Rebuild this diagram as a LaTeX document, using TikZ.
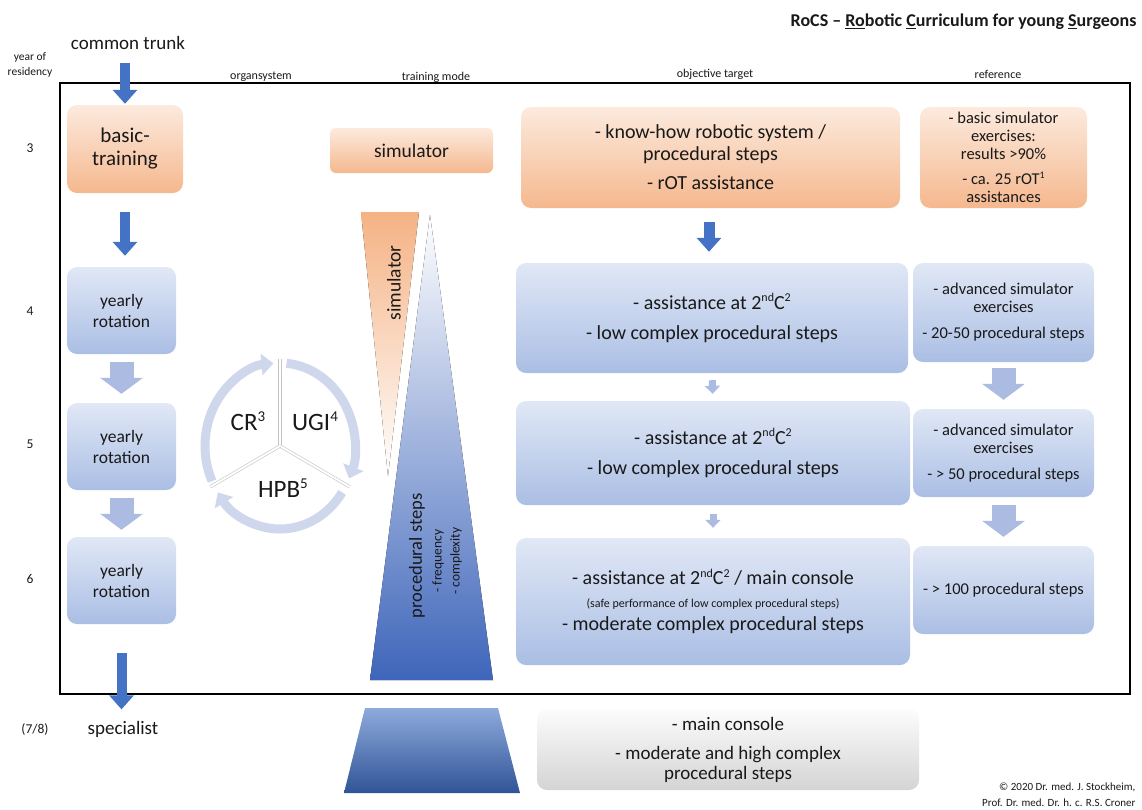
\documentclass[tikz,border=0pt]{standalone}
\usepackage{fontspec}
\usepackage{graphicx}
\setmainfont{Carlito}
\usetikzlibrary{arrows.meta}
\definecolor{orTop}{RGB}{252,234,222}
\definecolor{orBot}{RGB}{245,184,142}
\definecolor{blTop}{RGB}{225,232,246}
\definecolor{blBot}{RGB}{170,190,228}
\definecolor{grTop}{RGB}{252,252,252}
\definecolor{grBot}{RGB}{212,212,212}
\definecolor{darkA}{RGB}{68,114,196}
\definecolor{lightA}{RGB}{172,187,226}
\definecolor{ringC}{RGB}{207,215,237}
\definecolor{lineC}{RGB}{196,196,196}
\definecolor{orTri}{RGB}{245,178,132}
\definecolor{triBot}{RGB}{62,101,186}
\definecolor{tzTop}{RGB}{142,170,220}
\definecolor{tzMid}{RGB}{70,114,196}
\definecolor{tzBot}{RGB}{48,84,150}
\definecolor{txt}{RGB}{25,25,25}
\newcommand\myfs[2]{\fontsize{#1}{#2}\selectfont}
\newcommand\mysup[1]{\raisebox{0.36em}{\scalebox{0.6}{#1}}}
\begin{document}
\begin{tikzpicture}[x=1pt,y=-1pt,
  every node/.style={text=txt},
  obox/.style={rounded corners=10pt, top color=orTop, bottom color=orBot, draw=none, inner sep=0pt, align=center},
  bbox/.style={rounded corners=10pt, top color=blTop, bottom color=blBot, draw=none, inner sep=0pt, align=center},
  gbox/.style={rounded corners=10pt, top color=grTop, bottom color=grBot, draw=none, inner sep=0pt, align=center},
  hdr/.style={font=\myfs{12}{14}},
  yr/.style={font=\myfs{13.5}{15}},
  objf/.style={font=\myfs{20}{22}},
  reff/.style={font=\myfs{16.5}{18}},
  darrow/.style={draw=darkA, line width=10pt, -{Triangle[length=14pt,width=24pt]}},
  larrow/.style={draw=lightA, line width=24pt, -{Triangle[length=16pt,width=42pt]}},
  sarrow/.style={draw=lightA, line width=7pt, -{Triangle[length=8pt,width=15pt]}},
  ringarrow/.style={draw=ringC, line width=9pt, -{Triangle[length=12pt,width=21pt]}},
  divider/.style={draw=lineC, double=white, double distance=2pt, line width=0.6pt}
]
\useasboundingbox (0,0) rectangle (1142,809);

% title and credits
\node[anchor=east, font=\bfseries\myfs{18}{20}] (title) at (1140,22) {RoCS -- \underline{Ro}botic \underline{C}urriculum for young \underline{S}urgeons};
\node[anchor=east, align=right, font=\myfs{11}{16}] (credit) at (1139,795) {© 2020 Dr. med. J. Stockheim,\\Prof. Dr. med. Dr. h. c. R.S. Croner};

% frame
\draw[line width=2pt] (60,83) rectangle (1130,694);

% headers
\node[align=center, font=\myfs{11.5}{15}] (yor) at (30,65) {year of\\residency};
\node[hdr] (h1) at (261,77) {organsystem};
\node[hdr] (h2) at (436,77) {training mode};
\node[hdr] (h3) at (715,74) {objective target};
\node[hdr] (h4) at (998,74) {reference};

% years
\node[yr] (y3) at (30,148) {3};
\node[yr] (y4) at (30,311) {4};
\node[yr] (y5) at (30,444) {5};
\node[yr] (y6) at (30,579) {6};
\node[yr] (y78) at (35,729) {(7/8)};

% left column
\node[font=\myfs{19}{21}] (trunk) at (128,43) {common trunk};
\node[obox, minimum width=116pt, minimum height=88pt, font=\myfs{21}{23}] (basic) at (125,149) {basic-\\training};
\node[bbox, minimum width=109pt, minimum height=87pt, font=\myfs{17.5}{21}] (rot1) at (121.5,310.5) {yearly\\rotation};
\node[bbox, minimum width=109pt, minimum height=87pt, font=\myfs{17.5}{21}] (rot2) at (121.5,446.5) {yearly\\rotation};
\node[bbox, minimum width=109pt, minimum height=87pt, font=\myfs{17.5}{21}] (rot3) at (121.5,580.5) {yearly\\rotation};
\node[font=\myfs{19}{21}] (spec) at (123,729) {specialist};

\draw[darrow, shorten <=10pt, shorten >=1pt] (trunk.south -| basic.north) -- (basic.north);
\draw[darrow, shorten <=19pt, shorten >=11pt] (basic.south) -- (basic.south |- rot1.north);
\draw[larrow, shorten <=8pt, shorten >=9pt] (rot1.south) -- (rot2.north);
\draw[larrow, shorten <=8pt, shorten >=7pt] (rot2.south) -- (rot3.north);
\draw[darrow, shorten <=29pt, shorten >=8pt] (rot3.south) -- (rot3.south |- spec.north);

% organ system cycle
\begin{scope}[shift={(280,446)}, yscale=-1]
  \draw[ringarrow] (205:75 and 83) arc[start angle=205, end angle=95, x radius=75, y radius=83];
  \draw[ringarrow] (85:75 and 83) arc[start angle=85, end angle=-23, x radius=75, y radius=83];
  \draw[ringarrow] (-34:75 and 83) arc[start angle=-34, end angle=-146, x radius=75, y radius=83];
  \coordinate (cc) at (0,0);
  \coordinate (d1) at (90:79 and 87);
  \coordinate (d2) at (-28:79 and 87);
  \coordinate (d3) at (208:79 and 87);
  \draw[divider] (cc) -- (d1);
  \draw[divider] (cc) -- (d2);
  \draw[divider] (cc) -- (d3);
\end{scope}
\node[font=\myfs{25}{27}] (cr) at (248,421) {CR\mysup{3}};
\node[font=\myfs{25}{27}] (ugi) at (315,421) {UGI\mysup{4}};
\node[font=\myfs{25}{27}] (hpb) at (283,488) {HPB\mysup{5}};

% training mode
\node[obox, minimum width=163pt, minimum height=45pt, rounded corners=6pt, font=\myfs{19.5}{21}] (sim) at (411.5,150.5) {simulator};
\fill[top color=orTri, bottom color=white] (361,212) -- (419,212) -- (388,476) -- cycle;
\fill[top color=white, bottom color=triBot] (430,215) -- (493,680) -- (370,680) -- cycle;
\node[rotate=90, font=\myfs{19.5}{21}] (simt) at (394,283) {simulator};
\node[rotate=90, font=\myfs{18.5}{21}] (proc) at (417,556) {procedural steps};
\node[rotate=90, align=center, font=\myfs{13.5}{18}] (freq) at (447,561) {- frequency\\- complexity};
\shade[top color=tzTop, middle color=tzMid, bottom color=tzBot] (365,708) -- (498,708) -- (520,793) -- (344,793) -- cycle;

% objective target
\node[obox, objf, minimum width=379pt, minimum height=101pt] (ob0) at (710.5,157.5)
  {- know-how robotic system /\\procedural steps\\[7pt]- rOT assistance};
\node[bbox, objf, minimum width=392pt, minimum height=110pt] (ob1) at (712,318)
  {- assistance at 2\mysup{nd}C\mysup{2}\\[8pt]- low complex procedural steps};
\node[bbox, objf, minimum width=394pt, minimum height=104pt] (ob2) at (713,453)
  {- assistance at 2\mysup{nd}C\mysup{2}\\[8pt]- low complex procedural steps};
\node[bbox, objf, minimum width=394pt, minimum height=127pt] (ob3) at (713,601.5)
  {- assistance at 2\mysup{nd}C\mysup{2} / main console\\[1pt]{\myfs{12}{13}(safe performance of low complex procedural steps)}\\[1pt]- moderate complex procedural steps};
\node[gbox, minimum width=382pt, minimum height=81pt, font=\myfs{19}{20}] (ob4) at (728,749.5)
  {- main console\\[9pt]- moderate and high complex\\procedural steps};

\draw[draw=darkA, line width=11pt, -{Triangle[length=14pt,width=24pt]}, shorten <=14pt, shorten >=11pt] (ob0.south -| 709,0) -- (ob1.north -| 709,0);
\draw[sarrow, shorten <=7pt, shorten >=7pt] (ob1.south) -- (ob2.north);
\draw[sarrow, shorten <=9pt, shorten >=10pt] (ob2.south) -- (ob3.north);

% reference
\node[obox, reff, minimum width=167pt, minimum height=101pt] (rf0) at (1003.5,157.5)
  {- basic simulator\\exercises:\\results >90\%\\[7pt]- ca. 25 rOT\mysup{1}\\assistances};
\node[bbox, reff, minimum width=181pt, minimum height=99pt] (rf1) at (1003.5,312.5)
  {- advanced simulator\\exercises\\[8pt]- 20-50 procedural steps};
\node[bbox, reff, minimum width=181pt, minimum height=88pt] (rf2) at (1003.5,453)
  {- advanced simulator\\exercises\\[8pt]- > 50 procedural steps};
\node[bbox, reff, minimum width=181pt, minimum height=88pt] (rf3) at (1003.5,590)
  {- > 100 procedural steps};
\draw[larrow, shorten <=6pt, shorten >=9pt] (rf1.south) -- (rf2.north);
\draw[larrow, shorten <=8pt, shorten >=9pt] (rf2.south) -- (rf3.north);
\end{tikzpicture}
\end{document}
